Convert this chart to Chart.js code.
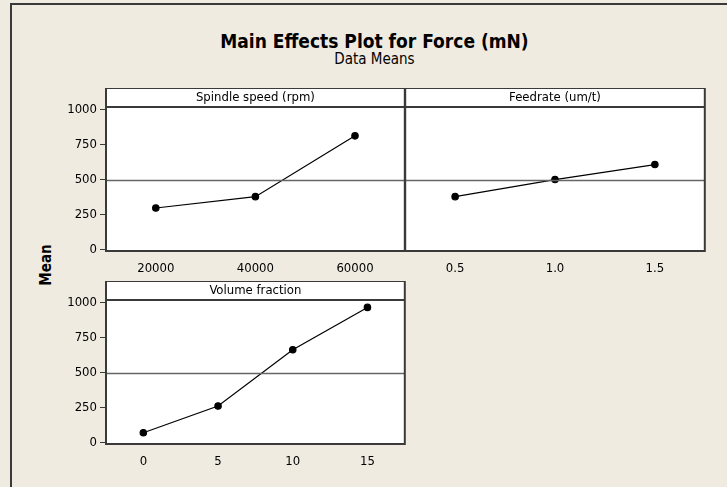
<!DOCTYPE html>
<html>
<head>
<meta charset="utf-8">
<script src="https://cdn.jsdelivr.net/npm/chart.js@4.4.0/dist/chart.umd.min.js"></script>
<style>
  body { margin: 0; background: #efebe1; width: 727px; height: 487px; overflow: hidden; position: relative; }
  #frame { position: absolute; left: 10px; top: 3px; width: 800px; height: 600px; border: 2px solid #3a3a3a; }
  canvas { position: absolute; }
  .txt { position: absolute; font-family: "DejaVu Sans Condensed", "DejaVu Sans", sans-serif; color: #000; white-space: nowrap; }
</style>
</head>
<body>
<div id="frame"></div>
<div class="txt" id="title" style="left:0; width:749px; top:30px; text-align:center; font-size:19px; font-weight:bold;">Main Effects Plot for Force (mN)</div>
<div class="txt" id="sub" style="left:0; width:749px; top:50px; text-align:center; font-size:15px;">Data Means</div>
<div class="txt" id="ylab" style="left:46px; top:265px; font-size:15px; font-weight:bold; transform: translate(-50%,-50%) rotate(-90deg);">Mean</div>
<canvas id="p1" width="390" height="193" style="left:20px; top:88px;"></canvas>
<canvas id="p2" width="310" height="193" style="left:400px; top:88px;"></canvas>
<canvas id="p3" width="390" height="193" style="left:20px; top:281px;"></canvas>
<script>
// factor levels and the mean force at each level
var spindleLevels = [20000, 40000, 60000];
var spindleMeans = [296, 377, 811];
var feedLevels = [0.5, 1.0, 1.5];
var feedMeans = [377, 499, 606];
var volumeLevels = [0, 5, 10, 15];
var volumeMeans = [69, 260, 662, 964];
var grandMean = 492;
var yTicks = [0, 250, 500, 750, 1000];

var FONT = "'DejaVu Sans Condensed', 'DejaVu Sans', sans-serif";

// white strip with the factor name + box round the panel
var panelBox = {
  id: "panelBox",
  beforeDraw: function(chart) {
    var a = chart.chartArea, ctx = chart.ctx;
    ctx.save();
    ctx.fillStyle = "#ffffff";
    ctx.fillRect(a.left, a.top, a.right - a.left, a.bottom - a.top);
    ctx.restore();
  },
  afterDraw: function(chart, args, opts) {
    var a = chart.chartArea, ctx = chart.ctx;
    var top = a.top - 19;
    ctx.save();
    ctx.fillStyle = "#ffffff";
    ctx.fillRect(a.left, top, a.right - a.left, 19);
    ctx.strokeStyle = "#3a3a3a";
    ctx.lineWidth = 2;
    ctx.strokeRect(a.left, top, a.right - a.left, a.bottom - top);
    ctx.beginPath();
    ctx.moveTo(a.left, a.top);
    ctx.lineTo(a.right, a.top);
    ctx.stroke();
    ctx.fillStyle = "#000";
    ctx.font = "13px " + FONT;
    ctx.textAlign = "center";
    ctx.textBaseline = "middle";
    ctx.fillText(opts.label, (a.left + a.right) / 2, top + 10);
    ctx.restore();
  }
};

function makePanel(id, label, levels, means, xmin, xmax, fmt, showY) {
  var pts = levels.map(function(v, i) { return { x: v, y: means[i] }; });
  new Chart(id, {
    type: "line",
    data: {
      datasets: [{
        data: [{ x: xmin, y: grandMean }, { x: xmax, y: grandMean }],
        borderColor: "#666666",
        borderWidth: 1.5,
        pointRadius: 0
      }, {
        data: pts,
        borderColor: "#000000",
        borderWidth: 1.2,
        pointRadius: 3.2,
        pointBackgroundColor: "#000000",
        pointBorderColor: "#000000"
      }]
    },
    options: {
      responsive: false,
      animation: false,
      layout: { padding: { top: 19, left: showY ? 0 : 5, right: 5 } },
      plugins: {
        legend: { display: false },
        tooltip: { enabled: false },
        panelBox: { label: label }
      },
      scales: {
        x: {
          type: "linear",
          min: xmin,
          max: xmax,
          afterBuildTicks: function(s) { s.ticks = levels.map(function(v) { return { value: v }; }); },
          afterFit: function(s) { s.height = 30; },
          grid: { display: false, drawTicks: false },
          border: { display: false },
          ticks: {
            padding: 10,
            color: "#000",
            font: { family: FONT, size: 13 },
            maxRotation: 0,
            callback: fmt
          }
        },
        y: {
          display: showY,
          min: -11,
          max: 1017,
          afterBuildTicks: function(s) { s.ticks = yTicks.map(function(v) { return { value: v }; }); },
          afterFit: function(s) { s.width = showY ? 86 : 0; },
          grid: { drawOnChartArea: false, tickLength: 6, tickColor: "#3a3a3a", tickWidth: 1 },
          border: { display: false },
          ticks: {
            padding: 3,
            color: "#000",
            font: { family: FONT, size: 13 },
            callback: function(v) { return String(v); }
          }
        }
      }
    },
    plugins: [panelBox]
  });
}

makePanel("p1", "Spindle speed (rpm)", spindleLevels, spindleMeans, 10000, 70000,
  function(v) { return String(v); }, true);
makePanel("p2", "Feedrate (um/t)", feedLevels, feedMeans, 0.25, 1.75,
  function(v) { return v.toFixed(1); }, false);
makePanel("p3", "Volume fraction", volumeLevels, volumeMeans, -2.5, 17.5,
  function(v) { return String(v); }, true);
</script>
</body>
</html>
